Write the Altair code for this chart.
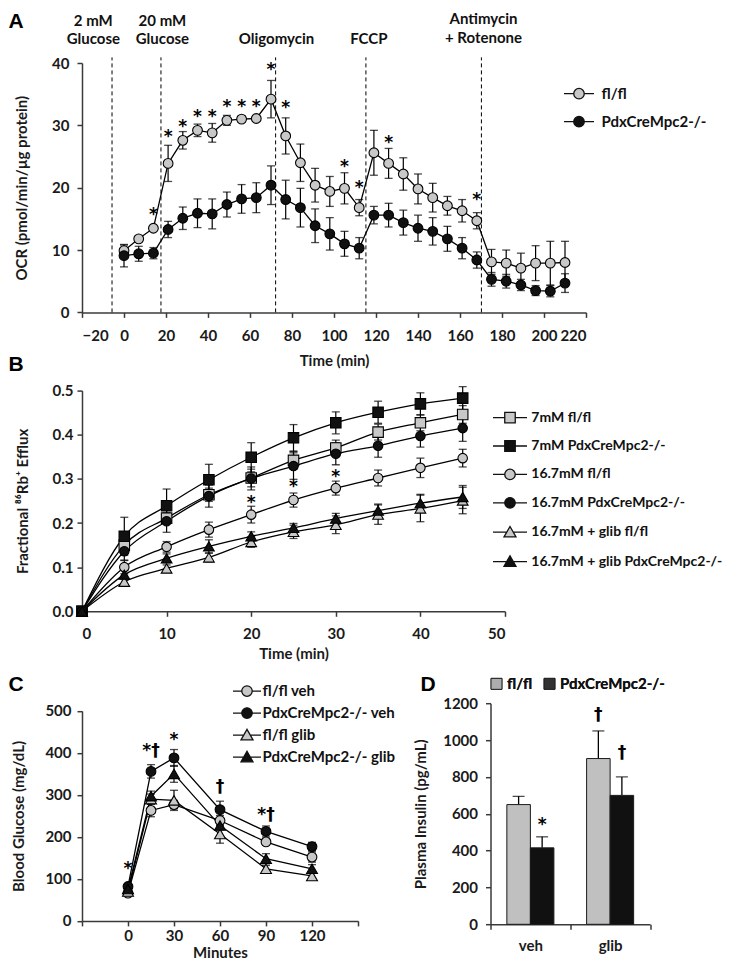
import altair as alt
import pandas as pd

FONT = "Lato"
STARFONT = "DejaVu Sans"
LETTERFONT = "Liberation Sans"
GRAY = "#c8c8c8"
BLACK = "#111111"
AXC = "#3a3a3a"

# ---------------- Panel A: OCR ----------------
a_time = [0, 7, 14, 21, 28, 35, 42, 49, 56, 63, 70, 77, 84, 91, 98, 105, 112,
          119, 126, 133, 140, 147, 154, 161, 168, 175, 182, 189, 196, 203, 210]
a_flfl = [9.9, 11.8, 13.5, 23.9, 27.6, 29.2, 28.8, 30.8, 31.0, 31.1, 34.2, 28.3,
          24.0, 20.4, 19.4, 19.9, 16.8, 25.6, 23.9, 22.2, 19.8, 18.4, 17.1, 16.3,
          14.7, 8.1, 7.9, 7.1, 7.9, 7.9, 8.0]
a_flfl_err = [0.9, 0.3, 0.3, 2.9, 1.4, 1.0, 1.5, 0.8, 0.5, 0.4, 3.0, 2.9, 3.0, 2.7,
              2.4, 2.5, 1.3, 3.6, 2.4, 2.6, 2.4, 2.3, 1.5, 1.8, 1.3, 2.0, 2.1, 2.4,
              2.8, 3.5, 3.4]
a_ko = [9.1, 9.4, 9.5, 13.3, 15.1, 15.9, 15.8, 17.3, 18.2, 18.4, 20.4, 18.1, 16.8,
        13.9, 12.6, 11.0, 10.3, 15.6, 15.6, 14.4, 13.5, 13.0, 11.8, 10.3, 8.4, 5.3,
        5.0, 4.4, 3.5, 3.4, 4.7]
a_ko_err = [1.8, 1.2, 0.9, 1.3, 1.8, 2.3, 2.4, 2.0, 2.3, 2.4, 3.1, 3.1, 3.1, 2.7, 2.6,
            2.0, 1.7, 1.4, 1.9, 2.0, 2.1, 2.2, 2.0, 1.7, 1.3, 1.1, 1.1, 0.9, 0.8, 0.9, 1.5]
a_series = ["fl/fl", "PdxCreMpc2-/-"]
a_lines = [-5.7, 17.6, 72.2, 115.2, 170.2]
a_ann_text = ["2 mM", "Glucose", "20 mM", "Glucose", "Oligomycin", "FCCP", "Antimycin", "+ Rotenone"]
a_ann_t = [-14.6, -14.6, 18.3, 18.3, 72.6, 116.6, 171.2, 171.2]
a_ann_v = [46.8, 43.85, 46.8, 43.85, 43.85, 43.85, 47.0, 43.95]
a_star_t = [14, 21, 28, 35, 42, 49, 56, 63, 70, 77, 105, 112, 126, 168]
a_star_v = [16.4, 28.9, 30.6, 32.1, 32.1, 33.7, 33.7, 33.7, 39.6, 33.6, 24.2, 20.7, 28.0, 18.9]

# ---------------- Panel B: 86Rb efflux ----------------
b_time = [0, 5, 10, 15, 20, 25, 30, 35, 40, 45]
b_series = ["7mM fl/fl", "7mM PdxCreMpc2-/-", "16.7mM fl/fl", "16.7mM PdxCreMpc2-/-",
            "16.7mM + glib fl/fl", "16.7mM + glib PdxCreMpc2-/-"]
b_vals = [
    [0, 0.150, 0.211, 0.264, 0.302, 0.342, 0.370, 0.406, 0.427, 0.446],
    [0, 0.170, 0.239, 0.298, 0.349, 0.393, 0.427, 0.451, 0.470, 0.483],
    [0, 0.100, 0.146, 0.185, 0.219, 0.252, 0.279, 0.302, 0.325, 0.347],
    [0, 0.136, 0.204, 0.261, 0.301, 0.329, 0.357, 0.375, 0.397, 0.415],
    [0, 0.067, 0.097, 0.122, 0.157, 0.180, 0.196, 0.219, 0.233, 0.251],
    [0, 0.083, 0.120, 0.147, 0.170, 0.189, 0.210, 0.228, 0.245, 0.259],
]
b_errs = [
    [0, 0.010, 0.012, 0.015, 0.020, 0.020, 0.018, 0.018, 0.018, 0.020],
    [0, 0.043, 0.038, 0.035, 0.033, 0.030, 0.025, 0.025, 0.025, 0.026],
    [0, 0.015, 0.012, 0.017, 0.019, 0.016, 0.016, 0.018, 0.022, 0.020],
    [0, 0.020, 0.025, 0.025, 0.026, 0.030, 0.025, 0.026, 0.025, 0.030],
    [0, 0.008, 0.008, 0.010, 0.012, 0.015, 0.020, 0.022, 0.030, 0.030],
    [0, 0.010, 0.010, 0.015, 0.010, 0.010, 0.012, 0.015, 0.020, 0.026],
]
b_star_t = [20, 25, 30]
b_star_v = [0.257, 0.293, 0.316]

# ---------------- Panel C: blood glucose ----------------
c_time = [0, 15, 30, 60, 90, 120]
c_series = ["fl/fl veh", "PdxCreMpc2-/- veh", "fl/fl glib", "PdxCreMpc2-/- glib"]
c_vals = [
    [66, 263, 277, 239, 188, 152],
    [82, 356, 388, 265, 213, 177],
    [70, 290, 287, 207, 124, 107],
    [76, 297, 350, 227, 148, 124],
]
c_errs = [
    [5, 15, 10, 12, 8, 12],
    [5, 16, 20, 20, 13, 10],
    [5, 12, 24, 22, 8, 8],
    [5, 12, 20, 10, 12, 10],
]
c_mark_t = [0, 15, 30, 60, 90]
c_mark_v = [136, 404, 443, 319, 252]
c_mark_lab = ["*", "*†", "*", "†", "*†"]

# ---------------- Panel D: plasma insulin ----------------
d_cond = ["veh", "glib"]
d_groups = ["fl/fl", "PdxCreMpc2-/-"]
d_flfl = [650, 900]
d_flfl_err = [45, 150]
d_ko = [415, 700]
d_ko_err = [60, 100]
d_mark_cond = ["veh", "glib", "glib"]
d_mark_group = ["PdxCreMpc2-/-", "fl/fl", "PdxCreMpc2-/-"]
d_mark_v = [566, 1136, 928]
d_mark_lab = ["*", "†", "†"]


def long_df(x, names, vals, errs):
    rows = []
    for n, vv, ee in zip(names, vals, errs):
        for xi, v, e in zip(x, vv, ee):
            rows.append({"t": xi, "v": v, "lo": v - e, "hi": v + e, "s": n})
    return pd.DataFrame(rows)


def lpath(kind, half):
    if kind == "circle":
        m = "M-1.05,0A1.05,1.05,0,1,1,1.05,0A1.05,1.05,0,1,1,-1.05,0Z"
        e = 1.05
    elif kind == "square":
        m = "M-1.05,-1.05H1.05V1.05H-1.05Z"
        e = 1.05
    else:
        m = "M0,-1.15L1.2,0.95H-1.2Z"
        e = 0.66
    return f"M{-half},0H{-e}M{e},0H{half}" + m


def xy_layers(df, xf, yf, series, shapes, fills, sizes, cap, interp, lpaths, legend):
    base = alt.Chart(df)
    layers = [
        base.mark_rule(color="black", strokeWidth=1.2).encode(x=xf("t"), y=yf("lo"), y2=alt.Y2("hi:Q")),
        base.mark_tick(orient="horizontal", size=cap, thickness=1.3, color="black").encode(x=xf("t"), y=yf("lo")),
        base.mark_tick(orient="horizontal", size=cap, thickness=1.3, color="black").encode(x=xf("t"), y=yf("hi")),
        base.mark_line(color="black", strokeWidth=1.3, interpolate=interp).encode(x=xf("t"), y=yf("v"), detail="s:N"),
    ]
    for s, sh, fc, sz in zip(series, shapes, fills, sizes):
        layers.append(
            base.transform_filter(alt.datum.s == s)
            .mark_point(shape=sh, filled=True, fill=fc, stroke="black", strokeWidth=1.1, size=sz, opacity=1)
            .encode(x=xf("t"), y=yf("v"))
        )
    layers.append(
        base.transform_filter("false")
        .mark_point(filled=True, strokeWidth=1.3, opacity=1)
        .encode(
            x=xf("t"), y=yf("v"),
            shape=alt.Shape("s:N", scale=alt.Scale(domain=series, range=lpaths), legend=legend),
            fill=alt.Fill("s:N", scale=alt.Scale(domain=series, range=fills), legend=legend),
            stroke=alt.Stroke("s:N", scale=alt.Scale(domain=series, range=["#111111"] * len(series)),
                              legend=legend),
        )
    )
    return layers


def mk_legend(x, y, offset, rowpad, fsize=15):
    return alt.Legend(orient="none", legendX=x, legendY=y, title=None, padding=0,
                      symbolSize=100, symbolStrokeColor="black", symbolStrokeWidth=1.3,
                      symbolOpacity=1, labelFont=FONT, labelFontSize=fsize, labelFontWeight="bold",
                      labelColor="#111111", labelOffset=offset, rowPadding=rowpad,
                      labelLimit=400, direction="vertical")


def panel_label(letter, x, y):
    return alt.Chart(pd.DataFrame({"lab": [letter]})).mark_text(
        text=letter, align="left", baseline="alphabetic", font=LETTERFONT, fontSize=21,
        fontWeight="bold", color="black", x=x, y=y)


def star_layer(df, xf, yf, dy, size=17):
    return alt.Chart(df).mark_text(font=STARFONT, fontSize=size, fontWeight="bold", color="black",
                                   baseline="middle", dy=dy).encode(x=xf("t"), y=yf("v"), text="lab:N")


# ======== Panel A ========
a_df = long_df(a_time, a_series, [a_flfl, a_ko], [a_flfl_err, a_ko_err])
xA_scale = alt.Scale(domain=[-20, 220], nice=False, zero=False)
xA_axis = alt.Axis(title="Time (min)", values=[-20, 0, 20, 40, 60, 80, 100, 120, 140, 160, 180, 200, 220],
                   labelPadding=11, titlePadding=10)
yA_scale = alt.Scale(domain=[0, 40], nice=False)
yA_axis = alt.Axis(title="OCR (pmol/min/µg protein)", values=[0, 5, 10, 15, 20, 25, 30, 35, 40],
                   labelPadding=8, titlePadding=22)
xA = lambda f: alt.X(f"{f}:Q", scale=xA_scale, axis=xA_axis)
yA = lambda f: alt.Y(f"{f}:Q", scale=yA_scale, axis=yA_axis)

a_layers = [
    # invisible anchor fixing the top edge of the figure's bounds
    alt.Chart(pd.DataFrame({"k": [0]})).mark_point(size=1, opacity=0, x=0, y=-53.8),
    alt.Chart(pd.DataFrame({"t": a_lines})).mark_rule(color="black", strokeWidth=1, strokeDash=[4, 3])
    .encode(x=xA("t"), y=alt.datum(0), y2=alt.datum(40.9)),
]
a_layers += xy_layers(a_df, xA, yA, a_series, ["circle", "circle"], [GRAY, BLACK], [95, 95], 8, "linear",
                      [lpath("circle", 3), lpath("circle", 3)], mk_legend(489.5, 23.2, 15, 11))
a_layers.append(
    alt.Chart(pd.DataFrame({"t": a_ann_t, "v": a_ann_v, "lab": a_ann_text})).mark_text(
        font=FONT, fontSize=15, fontWeight="bold", color="#111111", baseline="middle")
    .encode(x=xA("t"), y=yA("v"), text="lab:N"))
a_layers.append(star_layer(pd.DataFrame({"t": a_star_t, "v": a_star_v, "lab": ["*"] * len(a_star_t)}), xA, yA, 5))
a_layers.append(panel_label("A", -73.5, -35))
chartA = alt.layer(*a_layers).properties(width=504, height=249.4)

# ======== Panel B ========
b_df = long_df(b_time, b_series, b_vals, b_errs)
xB_scale = alt.Scale(domain=[0, 50], nice=False)
xB_axis = alt.Axis(title="Time (min)", values=[0, 10, 20, 30, 40, 50], labelPadding=10, titlePadding=5)
yB_scale = alt.Scale(domain=[0, 0.5], nice=False)
yB_axis = alt.Axis(title="Fractional ⁸⁶Rb⁺ Efflux", values=[0, 0.1, 0.2, 0.3, 0.4, 0.5], format=".1f",
                   labelPadding=4, titlePadding=22)
xB = lambda f: alt.X(f"{f}:Q", scale=xB_scale, axis=xB_axis)
yB = lambda f: alt.Y(f"{f}:Q", scale=yB_scale, axis=yB_axis)
b_layers = xy_layers(b_df, xB, yB, b_series,
                     ["square", "square", "circle", "circle", "triangle-up", "triangle-up"],
                     [GRAY, BLACK, GRAY, BLACK, GRAY, BLACK], [110, 110, 90, 90, 115, 115], 8, "monotone",
                     [lpath("square", 3.4), lpath("square", 3.4), lpath("circle", 3.4), lpath("circle", 3.4),
                      lpath("tri", 3.4), lpath("tri", 3.4)],
                     mk_legend(421, 20, 14.3, 12.4, 14))
b_layers.append(star_layer(pd.DataFrame({"t": b_star_t, "v": b_star_v, "lab": ["*"] * 3}), xB, yB, 5))
b_layers.append(panel_label("B", -73.5, -19.8))
chartB = alt.layer(*b_layers).properties(width=423, height=220.7)

# ======== Panel C ========
c_df = long_df(c_time, c_series, c_vals, c_errs)
xC_scale = alt.Scale(domain=[-30, 150], nice=False, zero=False)
xC_axis = alt.Axis(title="Minutes", values=[-30, 0, 30, 60, 90, 120, 150],
                   labelExpr="datum.value < 0 || datum.value > 120 ? '' : datum.label",
                   labelPadding=3, titlePadding=2)
yC_scale = alt.Scale(domain=[0, 500], nice=False, range=[231.7, 21.7])
yC_axis = alt.Axis(title="Blood Glucose (mg/dL)", values=[0, 100, 200, 300, 400, 500],
                   labelPadding=6, titlePadding=18)
xC = lambda f: alt.X(f"{f}:Q", scale=xC_scale, axis=xC_axis)
yC = lambda f: alt.Y(f"{f}:Q", scale=yC_scale, axis=yC_axis)
c_layers = xy_layers(c_df, xC, yC, c_series, ["circle", "circle", "triangle-up", "triangle-up"],
                     [GRAY, BLACK, GRAY, BLACK], [95, 95, 120, 120], 8, "linear",
                     [lpath("circle", 2.8), lpath("circle", 2.8), lpath("tri", 2.8), lpath("tri", 2.8)],
                     mk_legend(157.5, -5.6, 8, 5))
c_marks = pd.DataFrame({"t": c_mark_t, "v": c_mark_v, "lab": c_mark_lab})
c_layers.append(star_layer(c_marks[c_marks["lab"] == "*"], xC, yC, 5))
c_layers.append(star_layer(c_marks[c_marks["lab"] != "*"], xC, yC, 0))
c_layers.append(panel_label("C", -73.5, 1.4))
chartC = alt.layer(*c_layers).properties(width=276, height=231.7)

# ======== Panel D ========
d_rows = []
for c_i, cond in enumerate(d_cond):
    d_rows.append({"cond": cond, "g": d_groups[0], "v": d_flfl[c_i], "hi": d_flfl[c_i] + d_flfl_err[c_i]})
    d_rows.append({"cond": cond, "g": d_groups[1], "v": d_ko[c_i], "hi": d_ko[c_i] + d_ko_err[c_i]})
d_df = pd.DataFrame(d_rows)
xD = alt.X("cond:N", scale=alt.Scale(domain=d_cond, paddingInner=0, paddingOuter=0),
           axis=alt.Axis(title=None, labelAngle=0, tickBand="extent", labelPadding=9))
xoD = alt.XOffset("g:N", scale=alt.Scale(domain=d_groups, paddingInner=0, paddingOuter=0.695))
yD_scale = alt.Scale(domain=[0, 1200], nice=False, range=[235.1, 14.1])
yD_axis = alt.Axis(title="Plasma Insulin (pg/mL)", values=[0, 200, 400, 600, 800, 1000, 1200],
                   format="d", labelPadding=8, titlePadding=14)
yD = lambda f: alt.Y(f"{f}:Q", scale=yD_scale, axis=yD_axis)
d_legend = alt.Legend(orient="none", legendX=-1.5, legendY=-13.1, title=None, padding=0,
                      direction="horizontal", symbolSize=121,
                      symbolStrokeColor="black", symbolStrokeWidth=1,
                      labelFont=FONT, labelFontSize=15, labelFontWeight="bold",
                      labelColor="#111111", labelOffset=3, columnPadding=9)
d_base = alt.Chart(d_df)
d_layers = [
    d_base.mark_rule(color="black", strokeWidth=1.3).encode(x=xD, xOffset=xoD, y=yD("v"), y2=alt.Y2("hi:Q")),
    d_base.mark_tick(orient="horizontal", size=12, thickness=1.3, color="black").encode(x=xD, xOffset=xoD, y=yD("hi")),
    d_base.mark_bar(stroke="#1a1a1a", strokeWidth=1).encode(
        x=xD, xOffset=xoD, y=yD("v"),
        fill=alt.Fill("g:N", scale=alt.Scale(domain=d_groups, range=["#c0c0c0", BLACK]), legend=None),
    ),
    # legend-only layer (draws nothing): square swatches with dark outline
    d_base.transform_filter("false").mark_point(shape="square", filled=True, strokeWidth=1).encode(
        x=xD, y=yD("v"),
        fill=alt.Fill("g:N", scale=alt.Scale(domain=d_groups, range=["#c0c0c0", BLACK]), legend=d_legend),
        stroke=alt.Stroke("g:N", scale=alt.Scale(domain=d_groups, range=["#1a1a1a", "#1a1a1a"]), legend=d_legend),
    ),
]
d_marks = pd.DataFrame({"cond": d_mark_cond, "g": d_mark_group, "v": d_mark_v, "lab": d_mark_lab})
d_layers.append(alt.Chart(d_marks[d_marks["lab"] == "*"]).mark_text(
    font=STARFONT, fontSize=17, fontWeight="bold", color="black", baseline="middle", dy=5)
    .encode(x=xD, xOffset=xoD, y=yD("v"), text="lab:N"))
d_layers.append(alt.Chart(d_marks[d_marks["lab"] != "*"]).mark_text(
    font=STARFONT, fontSize=17, fontWeight="bold", color="black", baseline="middle")
    .encode(x=xD, xOffset=xoD, y=yD("v"), text="lab:N"))
d_layers.append(panel_label("D", -70, 1.9))
chartD = alt.layer(*d_layers).resolve_scale(fill="independent").properties(width=159.5, height=235.1)

row = alt.hconcat(chartC, chartD, spacing=132.5, bounds="flush").resolve_scale(
    shape="independent", fill="independent", stroke="independent").resolve_legend(
    shape="independent", fill="independent", stroke="independent")

chart = alt.vconcat(
    chartA, chartB, row,
    spacing=77.6, bounds="flush",
).resolve_scale(shape="independent", fill="independent", stroke="independent").resolve_legend(
    shape="independent", fill="independent", stroke="independent"
).properties(padding=0, background="white").configure_axis(
    labelFont=FONT, labelFontSize=15, labelFontWeight="bold", labelColor="#1a1a1a",
    titleFont=FONT, titleFontSize=15, titleFontWeight="bold", titleColor="#1a1a1a",
    domainColor=AXC, domainWidth=1.5, tickColor=AXC, tickWidth=1.5, tickSize=5, grid=False,
).configure_view(strokeWidth=0)

chart.save("out.html", embed_options={"renderer": "svg", "actions": False})
